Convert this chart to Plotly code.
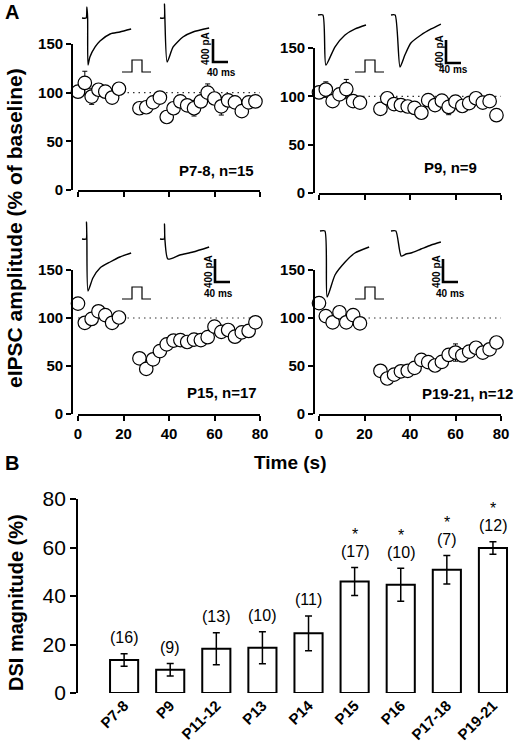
import plotly.graph_objects as go

W, H = 517, 756
FONT = "Liberation Sans, Arial, Helvetica, sans-serif"

# ---------------- Panel A data (eIPSC amplitude, % of baseline) ----------------
t_base = [0, 3, 6, 9, 12, 15, 18]
t_post = [27, 30, 33, 36, 39, 42, 45, 48, 51, 54, 57, 60, 63, 66, 69, 72, 75, 78]

p78_base = [101, 110, 96, 103, 101, 95, 104]
p78_base_err = [5, 12, 8, 4, 4, 5, 4]
p78_post = [84, 85, 90, 95, 75, 84, 91, 87, 84, 91, 100, 94, 86, 92, 90, 81, 90, 91]
p78_post_err = [4, 4, 4, 4, 5, 5, 6, 4, 8, 4, 9, 5, 9, 6, 4, 4, 4, 6]

p9_base = [104, 107, 95, 102, 107.5, 95, 93.5]
p9_base_err = [4, 8, 5, 4, 10, 5, 4]
p9_post = [87, 98, 92, 91, 89.5, 88, 83, 96, 91, 95.5, 89, 94.5, 90, 93, 98, 93.5, 95, 80.5]
p9_post_err = [4, 4, 4, 4, 4, 4, 4, 5, 4, 5, 8, 5, 4, 4, 4, 4, 6, 5]

p15_base = [115, 95, 99, 107, 103, 95, 100.5]
p15_base_err = [3, 3, 3, 3, 3, 3, 3]
p15_post = [58, 47, 57, 65.5, 72.5, 76.5, 77, 75, 77.5, 77, 80, 91, 85.5, 87.5, 80.5, 85, 86.5, 95.5]
p15_post_err = [4, 4, 4, 4, 4, 4, 4, 5, 6, 4, 4, 4, 4, 4, 4, 4, 4, 4]

p1921_base = [115.5, 102, 95.5, 106, 95.5, 103, 94.5]
p1921_base_err = [3, 3, 3, 3, 3, 3, 3]
p1921_post = [45, 37, 41, 44.5, 45, 48, 56.4, 54, 50.5, 54.3, 61.5, 64, 61, 65, 69, 64, 67.4, 74.5]
p1921_post_err = [4, 4, 4, 4, 4, 4, 4, 4, 4, 4, 5, 9, 5, 4, 5, 4, 4, 4]

time_ticks = [0, 20, 40, 60, 80]
amp_ticks = [0, 50, 100, 150]

# Example current traces (ms, pA), control and after depolarization (DSI)
p78_ctrl_ms = [0, 11, 13, 15, 16, 21, 35, 48, 75, 101, 131]
p78_ctrl_pA = [0, 0, 191, 0, -817, -678, -504, -400, -278, -243, -191]
p78_dsi_ms = [0, 11, 12, 13, 19, 35, 61, 88, 131]
p78_dsi_pA = [0, 0, 243, 0, -765, -504, -330, -243, -174]

p9_ctrl_ms = [0, 13, 21, 45, 72, 99, 128]
p9_ctrl_pA = [0, 0, -870, -557, -348, -243, -174]
p9_dsi_ms = [0, 11, 24, 37, 53, 80, 107, 133]
p9_dsi_pA = [0, 0, -904, -696, -487, -348, -243, -157]

p15_ctrl_ms = [0, 11, 12, 13, 16, 29, 48, 75, 101, 131]
p15_ctrl_pA = [0, 0, 296, 0, -904, -678, -504, -400, -313, -243]
p15_dsi_ms = [0, 11, 12, 13, 21, 53, 88, 131]
p15_dsi_pA = [0, 0, 261, 0, -348, -278, -226, -139]

p1921_ctrl_ms = [0, 13, 19, 40, 67, 93, 131]
p1921_ctrl_pA = [0, 0, -1148, -765, -539, -383, -278]
p1921_dsi_ms = [0, 13, 27, 40, 53, 80, 107, 133]
p1921_dsi_pA = [0, 0, -435, -400, -383, -313, -243, -191]

scale_pA = 400
scale_ms = 40

# ---------------- Panel B data (DSI magnitude, %) ----------------
ages = ["P7-8", "P9", "P11-12", "P13", "P14", "P15", "P16", "P17-18", "P19-21"]
dsi_mag = [13.6, 9.6, 18.2, 18.7, 24.6, 46.0, 44.6, 50.8, 59.8]
dsi_err = [2.6, 2.6, 6.6, 6.6, 7.2, 5.8, 6.8, 5.9, 2.6]
n_cells = [16, 9, 13, 10, 11, 17, 10, 7, 12]
significant = [False, False, False, False, False, True, True, True, True]
dsi_ticks = [0, 20, 40, 60, 80]

# ---------------- helpers ----------------
def px(x):
    return x / W

def py(y):
    return 1 - y / H

def dom_x(a, b):
    return [a / W, b / W]

def dom_y(top, bottom):
    return [1 - bottom / H, 1 - top / H]

def axname(prefix, i):
    return prefix if i == 1 else f"{prefix}{i}"

MS_PER_PX = 40 / 15
PA_PER_PX = 400 / 23

panels = [
    dict(label="P7-8, n=15", base=p78_base, base_err=p78_base_err, post=p78_post, post_err=p78_post_err,
         xdom=(78, 260), ydom=(44, 190), ypos=72, xlabels=False, lab=(256, 170),
         ctrl=(p78_ctrl_ms, p78_ctrl_pA), dsi=(p78_dsi_ms, p78_dsi_pA),
         origin=(82, 18), dsi_x=160, box=(72, 262, 0, 80), bar=(213, 62),
         pa_lab=(206, 49), ms_lab=(221, 72), pulse=(122, 72)),
    dict(label="P9, n=9", base=p9_base, base_err=p9_base_err, post=p9_post, post_err=p9_post_err,
         xdom=(319, 501), ydom=(48, 193), ypos=314, xlabels=False, lab=(479, 167),
         ctrl=(p9_ctrl_ms, p9_ctrl_pA), dsi=(p9_dsi_ms, p9_dsi_pA),
         origin=(318, 15), dsi_x=391, box=(312, 512, 0, 80), bar=(446, 63),
         pa_lab=(439, 52), ms_lab=(453, 70), pulse=(355, 72)),
    dict(label="P15, n=17", base=p15_base, base_err=p15_base_err, post=p15_post, post_err=p15_post_err,
         xdom=(78, 260), ydom=(270, 414), ypos=72, xlabels=True, lab=(259, 392),
         ctrl=(p15_ctrl_ms, p15_ctrl_pA), dsi=(p15_dsi_ms, p15_dsi_pA),
         origin=(82, 239), dsi_x=160, box=(72, 262, 210, 305), bar=(215, 282),
         pa_lab=(208, 272), ms_lab=(218, 293), pulse=(122, 299)),
    dict(label="P19-21, n=12", base=p1921_base, base_err=p1921_base_err, post=p1921_post, post_err=p1921_post_err,
         xdom=(319, 501), ydom=(270, 414), ypos=314, xlabels=True, lab=(515, 393),
         ctrl=(p1921_ctrl_ms, p1921_ctrl_pA), dsi=(p1921_dsi_ms, p1921_dsi_pA),
         origin=(320, 231), dsi_x=391, box=(312, 512, 210, 305), bar=(443, 282),
         pa_lab=(436, 272), ms_lab=(450, 293), pulse=(355, 299)),
]

fig = go.Figure()
layout = dict(width=W, height=H, margin=dict(l=0, r=0, t=0, b=0), template="none",
              paper_bgcolor="white", plot_bgcolor="rgba(0,0,0,0)", showlegend=False,
              font=dict(family=FONT, color="black"))
annotations = []
shapes = []

tick_font_A = dict(family=FONT, size=15, color="black", weight="bold")


def note(text, x, y, size, bold=True, angle=0, xanchor="center"):
    return dict(text=text, x=px(x), y=py(y), xref="paper", yref="paper", showarrow=False,
                xanchor=xanchor, yanchor="middle", textangle=angle,
                font=dict(family=FONT, size=size, weight="bold" if bold else "normal", color="black"))


for i, p in enumerate(panels, start=1):
    xr, yr = axname("x", i), axname("y", i)
    layout[axname("xaxis", i)] = dict(
        domain=dom_x(*p["xdom"]), range=[0, 80], tickvals=time_ticks, ticks="outside",
        ticklen=5, tickwidth=1.5, tickcolor="black", showline=True, linecolor="black",
        linewidth=1.8, showgrid=False, zeroline=False, showticklabels=p["xlabels"],
        tickfont=tick_font_A, anchor=yr, automargin=False, fixedrange=True)
    layout[axname("yaxis", i)] = dict(
        domain=dom_y(*p["ydom"]), range=[0, 150], tickvals=amp_ticks, ticks="outside",
        ticklen=5, tickwidth=1.5, tickcolor="black", showline=True, linecolor="black",
        linewidth=1.8, showgrid=False, zeroline=False, tickfont=tick_font_A,
        anchor="free", position=px(p["ypos"]), automargin=False, fixedrange=True)
    # dotted baseline at 100 %
    shapes.append(dict(type="line", xref=xr, yref=yr, x0=0, x1=80, y0=100, y1=100,
                       line=dict(color="#333", width=1.2, dash="1.5px,4px"), layer="below"))
    for tt, vv, ee in ((t_base, p["base"], p["base_err"]), (t_post, p["post"], p["post_err"])):
        fig.add_trace(go.Scatter(
            x=tt, y=vv, xaxis=xr, yaxis=yr, mode="markers", cliponaxis=False,
            marker=dict(symbol="circle", size=13.5, color="white", line=dict(color="black", width=1.2)),
            error_y=dict(type="data", array=ee, color="black", thickness=1, width=2.5)))
    annotations.append(note(p["label"], p["lab"][0], p["lab"][1], 15, xanchor="right"))

    # inset with example traces
    k = i + 4
    ixr, iyr = axname("x", k), axname("y", k)
    ox, oy = p["origin"]
    xl, xrr, yt, yb = p["box"]
    layout[axname("xaxis", k)] = dict(domain=dom_x(xl, xrr), anchor=iyr, visible=False,
                                      range=[(xl - ox) * MS_PER_PX, (xrr - ox) * MS_PER_PX],
                                      automargin=False, fixedrange=True)
    layout[axname("yaxis", k)] = dict(domain=dom_y(yt, yb), anchor=ixr, visible=False,
                                      range=[(oy - yb) * PA_PER_PX, (oy - yt) * PA_PER_PX],
                                      automargin=False, fixedrange=True)
    cms, cpa = p["ctrl"]
    fig.add_trace(go.Scatter(x=cms, y=cpa, xaxis=ixr, yaxis=iyr, mode="lines",
                             line=dict(color="black", width=1.4, shape="spline", smoothing=0.6)))
    off = (p["dsi_x"] - ox) * MS_PER_PX
    dms, dpa = p["dsi"]
    fig.add_trace(go.Scatter(x=[m + off for m in dms], y=dpa, xaxis=ixr, yaxis=iyr, mode="lines",
                             line=dict(color="black", width=1.4, shape="spline", smoothing=0.6)))
    bx = (p["bar"][0] - ox) * MS_PER_PX
    by = (oy - p["bar"][1]) * PA_PER_PX
    fig.add_trace(go.Scatter(x=[bx, bx, bx + scale_ms], y=[by + scale_pA, by, by],
                             xaxis=ixr, yaxis=iyr, mode="lines",
                             line=dict(color="black", width=2.6)))
    annotations.append(note(f"{scale_pA} pA", p["pa_lab"][0], p["pa_lab"][1], 10, angle=-90))
    annotations.append(note(f"{scale_ms} ms", p["ms_lab"][0], p["ms_lab"][1], 10))
    # depolarizing step icon
    sx, sy = p["pulse"]
    pts = [(sx, sy), (sx + 10, sy), (sx + 10, sy - 12), (sx + 20, sy - 12), (sx + 20, sy), (sx + 29, sy)]
    path = "M " + " L ".join(f"{px(a):.5f},{py(b):.5f}" for a, b in pts)
    shapes.append(dict(type="path", xref="paper", yref="paper", path=path,
                       line=dict(color="black", width=1.2)))

# ---------------- Panel B ----------------
layout["xaxis9"] = dict(domain=dom_x(78, 516), type="category", range=[-1, 8.5], anchor="y9",
                        showline=False, ticks="", showgrid=False, zeroline=False, tickangle=-45,
                        tickfont=dict(family=FONT, size=15, weight="bold", color="black"),
                        automargin=False, fixedrange=True)
layout["yaxis9"] = dict(domain=dom_y(499, 693), range=[0, 80], tickvals=dsi_ticks, anchor="x9",
                        ticks="outside", ticklen=6, tickwidth=1.5, tickcolor="black",
                        showline=True, linecolor="black", linewidth=1.8, showgrid=False,
                        zeroline=False, tickfont=dict(family=FONT, size=21, color="black"),
                        automargin=False, fixedrange=True)
fig.add_trace(go.Bar(x=ages, y=dsi_mag, xaxis="x9", yaxis="y9", width=0.61,
                     marker=dict(color="white", line=dict(color="black", width=2)),
                     error_y=dict(type="data", array=dsi_err, color="black", thickness=1.5, width=3.5)))
for a, v, e, n, s in zip(ages, dsi_mag, dsi_err, n_cells, significant):
    annotations.append(dict(text=f"({n})", x=a, y=v + e, xref="x9", yref="y9", yanchor="middle",
                            xanchor="center", yshift=16, showarrow=False,
                            font=dict(family=FONT, size=16, color="black")))
    if s:
        annotations.append(dict(text="*", x=a, y=v + e, xref="x9", yref="y9", yanchor="middle",
                                xanchor="center", yshift=33, showarrow=False,
                                font=dict(family=FONT, size=16, color="black")))

# ---------------- titles and panel letters ----------------
annotations += [
    note("A", 12, 12, 20),
    note("B", 12, 463, 20),
    note("Time (s)", 290, 462, 19),
    note("eIPSC amplitude (% of baseline)", 14, 228, 21, angle=-90),
    note("DSI magnitude (%)", 16, 603, 20, angle=-90),
]

layout["annotations"] = annotations
layout["shapes"] = shapes
fig.update_layout(**layout)
fig.write_html("out.html", config={"displayModeBar": False},
               post_script="document.body.style.margin='0';document.body.style.padding='0';")
